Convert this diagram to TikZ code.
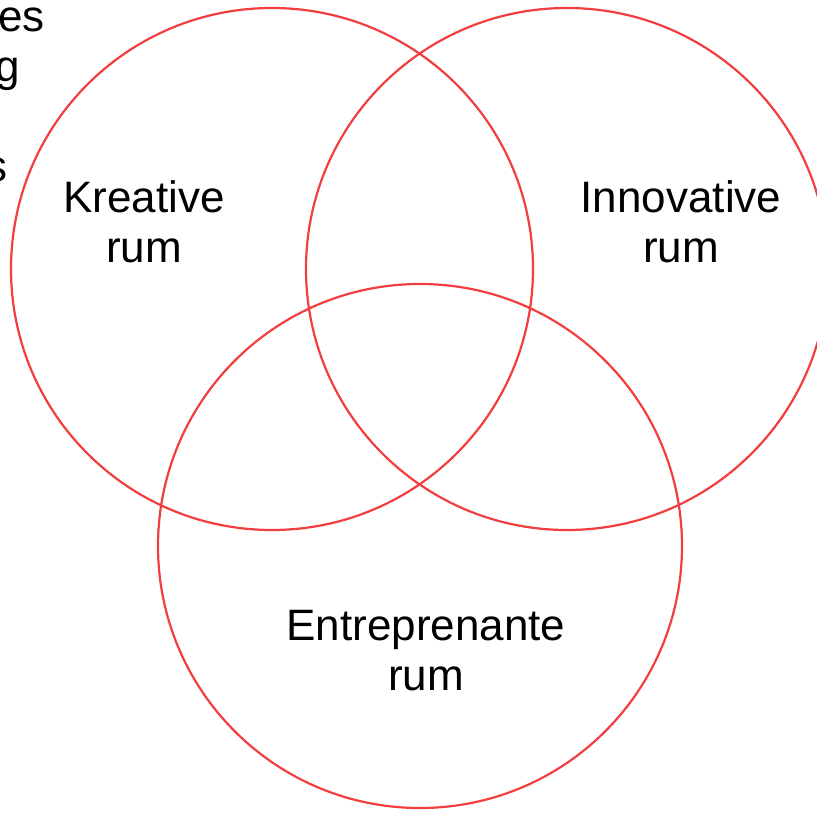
\documentclass[tikz,border=0pt]{standalone}
\usepackage{fontspec}
\setmainfont{Liberation Sans}
\usepackage{tikz}
\definecolor{ringred}{RGB}{242,62,62}

\begin{document}
\begin{tikzpicture}[x=1pt,y=-1pt,
  ring/.style={draw=ringred,line width=2.2pt},
  rumtext/.style={inner sep=0pt,align=center,font=\fontsize{44}{50}\selectfont},
  cuttext/.style={inner sep=0pt,anchor=base east,font=\fontsize{44}{50}\selectfont}]
\useasboundingbox (0,0) rectangle (817,813);
\clip (0,0) rectangle (817,813);

\coordinate (K) at (272,269);
\coordinate (I) at (567,269);
\coordinate (E) at (420,546);

\draw[ring] (K) circle (261);
\draw[ring] (I) circle (261);
\draw[ring] (E) circle (262);

\node[rumtext,anchor=north] (kreativ) at (144,180) {Kreative\\rum};
\node[rumtext,anchor=north] (innov) at (681,180) {Innovative\\rum};
\node[rumtext,anchor=north] (entre) at (426,610) {Entreprenante\\rum};

% text cut off at the left border
\node[cuttext] (cut1) at (45,32) {es};
\node[cuttext] (cut2) at (20,82) {g};
\node[cuttext] (cut3) at (8,182) {s};
\end{tikzpicture}
\end{document}
